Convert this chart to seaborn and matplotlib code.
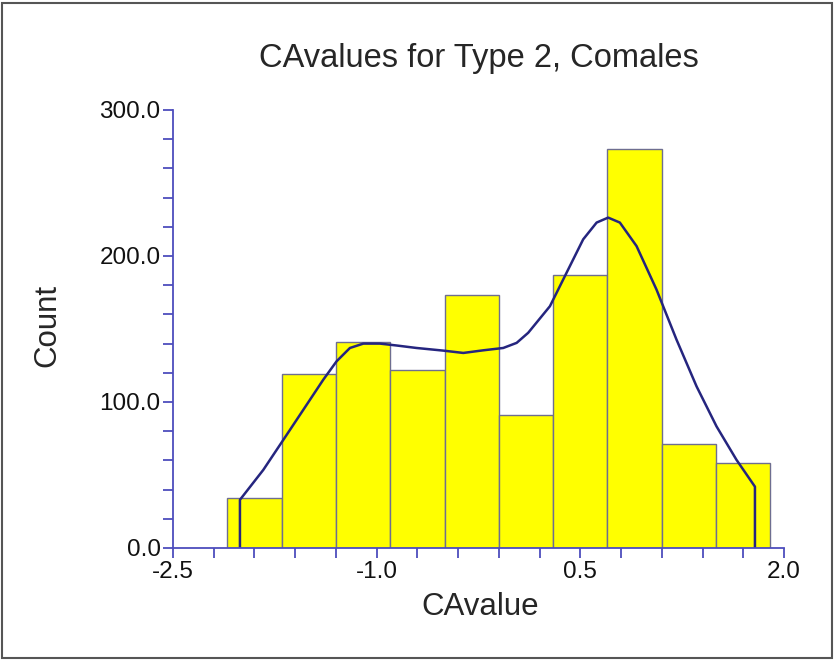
import numpy as np
import pandas as pd
import matplotlib
matplotlib.use("Agg")
import matplotlib.pyplot as plt
from matplotlib.ticker import FixedLocator, FormatStrFormatter
from matplotlib.patches import Rectangle
import seaborn as sns

# ---- data ----
bin_edges = [-2.1, -1.7, -1.3, -0.9, -0.5, -0.1, 0.3, 0.7, 1.1, 1.5, 1.9]
bin_counts = [34, 119, 141, 122, 173, 91, 187, 273, 71, 58]

curve_x = [-2.007, -2.007, -1.835, -1.688, -1.54, -1.393, -1.295, -1.197, -1.098,
           -0.976, -0.853, -0.706, -0.51, -0.362, -0.215, -0.068, 0.031, 0.116,
           0.276, 0.399, 0.521, 0.62, 0.705, 0.791, 0.914, 1.061, 1.208, 1.356,
           1.503, 1.65, 1.786, 1.786]
curve_y = [0, 33, 53.5, 74, 94.7, 115.3, 127.9, 137, 140,
           140, 138.7, 137, 135.2, 133.6, 135.4, 137, 140.5, 147.4,
           165.6, 188.6, 211.4, 222.9, 226.3, 222.9, 206.8, 177, 142.8, 110.7,
           83.3, 60.4, 42, 0]

x_major = [-2.5, -1.0, 0.5, 2.0]
x_minor = [-2.2, -1.9, -1.6, -1.3, -0.7, -0.4, -0.1, 0.2, 0.8, 1.1, 1.4, 1.7]
y_major = [0, 100, 200, 300]
y_minor = [20, 40, 60, 80, 120, 140, 160, 180, 220, 240, 260, 280]

title = "CAvalues for Type 2, Comales"
xlabel = "CAvalue"
ylabel = "Count"

centers = [(a + b) / 2 for a, b in zip(bin_edges[:-1], bin_edges[1:])]
df = pd.DataFrame({"x": centers, "w": bin_counts})
cdf = pd.DataFrame({"x": curve_x, "y": curve_y})

sns.set_style("white")
plt.rcParams["font.family"] = ["Liberation Sans", "DejaVu Sans"]
plt.rcParams["axes.unicode_minus"] = False

fig = plt.figure(figsize=(8.35, 6.6), dpi=100)
ax = fig.add_axes([173 / 835, 1 - 548 / 660, (784 - 173) / 835, (548 - 110) / 660])

sns.histplot(data=df, x="x", weights="w", bins=bin_edges, ax=ax,
             color="#ffff00", edgecolor="#6e6e90", linewidth=1.0, alpha=1.0)
sns.lineplot(data=cdf, x="x", y="y", ax=ax, estimator=None, sort=False,
             color="#25257f", linewidth=1.8)

ax.set_xlim(-2.5, 2.0)
ax.set_ylim(0, 300)
ax.xaxis.set_major_locator(FixedLocator(x_major))
ax.xaxis.set_minor_locator(FixedLocator(x_minor))
ax.yaxis.set_major_locator(FixedLocator(y_major))
ax.yaxis.set_minor_locator(FixedLocator(y_minor))
ax.xaxis.set_major_formatter(FormatStrFormatter("%.1f"))
ax.yaxis.set_major_formatter(FormatStrFormatter("%.1f"))

spine_col = "#4d4dbd"
for s in ["top", "right"]:
    ax.spines[s].set_visible(False)
for s in ["left", "bottom"]:
    ax.spines[s].set_color(spine_col)
    ax.spines[s].set_linewidth(1.3)
ax.tick_params(which="both", direction="out", color=spine_col, width=1.3,
               length=7, labelsize=17.5, labelcolor="#111111", bottom=True, left=True, pad=2)
ax.grid(False)

ax.set_xlabel(xlabel, fontsize=22.5)
ax.set_ylabel(ylabel, fontsize=22.5)
ax.xaxis.label.set_va("center")
ax.yaxis.label.set_va("center")
ax.xaxis.set_label_coords((480 - 173) / 611, (548 - 607) / 438)
ax.yaxis.set_label_coords((47 - 173) / 611, (548 - 325) / 438)
fig.text(479 / 835, 1 - 58 / 660, title, ha="center", va="center", fontsize=23.5)

fig.patches.append(Rectangle((2 / 835, 2 / 660), 830 / 835, 655 / 660,
                             transform=fig.transFigure, fill=False,
                             edgecolor="#555555", linewidth=1.5))

fig.savefig("out.png", dpi=100)
